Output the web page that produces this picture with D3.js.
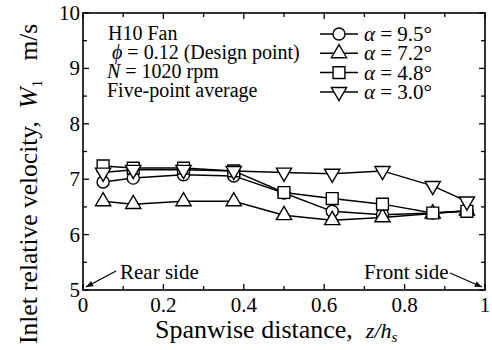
<!DOCTYPE html>
<html>
<head>
<meta charset="utf-8">
<script src="https://cdn.jsdelivr.net/npm/d3@7"></script>
<style>
  body { margin: 0; background: #fff; }
  text { font-family: "Liberation Serif", "Times New Roman", serif; fill: #000; }
</style>
</head>
<body>
<div id="chart"></div>
<script>
var spanX = [0.05, 0.125, 0.25, 0.375, 0.5, 0.62, 0.745, 0.87, 0.955];
var alpha95 = [6.95, 7.02, 7.08, 7.06, 6.75, 6.42, 6.36, 6.39, 6.43];
var alpha72 = [6.6, 6.55, 6.6, 6.6, 6.35, 6.26, 6.31, 6.38, 6.43];
var alpha48 = [7.24, 7.2, 7.2, 7.15, 6.76, 6.65, 6.55, 6.39, 6.42];
var alpha30 = [7.12, 7.17, 7.17, 7.15, 7.12, 7.1, 7.15, 6.88, 6.6];
var seriesNames = ["9.5", "7.2", "4.8", "3.0"];
var xTicks = [0, 0.2, 0.4, 0.6, 0.8, 1];
var yTicks = [5, 6, 7, 8, 9, 10];

var w = 492, h = 350;
var pLeft = 83, pRight = 485, pTop = 13, pBottom = 290;

var svg = d3.select("#chart").append("svg").attr("width", w).attr("height", h);

var x = d3.scaleLinear().domain([0, 1]).range([pLeft, pRight]);
var y = d3.scaleLinear().domain([5, 10]).range([pBottom, pTop]);

// frame
svg.append("rect")
  .attr("x", pLeft).attr("y", pTop)
  .attr("width", pRight - pLeft).attr("height", pBottom - pTop)
  .attr("fill", "none").attr("stroke", "#000").attr("stroke-width", 1.6);

// inward ticks on all four sides
var xMinor = d3.range(0, 1.001, 0.1);
var yMinor = d3.range(5, 10.001, 0.5);
var tk = svg.append("g").attr("stroke", "#000").attr("stroke-width", 1.3);
xMinor.forEach(function (v, i) {
  var len = i % 2 == 0 ? 6 : 4;
  tk.append("line").attr("x1", x(v)).attr("x2", x(v)).attr("y1", pBottom).attr("y2", pBottom - len);
  tk.append("line").attr("x1", x(v)).attr("x2", x(v)).attr("y1", pTop).attr("y2", pTop + len);
});
yMinor.forEach(function (v, i) {
  var len = i % 2 == 0 ? 6 : 4;
  tk.append("line").attr("y1", y(v)).attr("y2", y(v)).attr("x1", pLeft).attr("x2", pLeft + len);
  tk.append("line").attr("y1", y(v)).attr("y2", y(v)).attr("x1", pRight).attr("x2", pRight - len);
});

// tick labels
svg.append("g").selectAll("text").data(xTicks).enter().append("text")
  .attr("x", function (d) { return x(d); })
  .attr("y", pBottom + 22)
  .attr("text-anchor", "middle")
  .style("font-size", "21px")
  .text(function (d) { return d; });
svg.append("g").selectAll("text").data(yTicks).enter().append("text")
  .attr("x", pLeft - 3)
  .attr("y", function (d) { return y(d) + 7; })
  .attr("text-anchor", "end")
  .style("font-size", "21px")
  .text(function (d) { return d; });

// axis titles
var xt = svg.append("text").attr("x", 155).attr("y", 338).style("font-size", "26px");
xt.append("tspan").text("Spanwise distance,\u00a0\u00a0");
xt.append("tspan").style("font-style", "italic").style("font-size", "22px").text("z");
xt.append("tspan").style("font-style", "italic").style("font-size", "22px").text("/");
xt.append("tspan").style("font-style", "italic").style("font-size", "22px").text("h");
xt.append("tspan").style("font-style", "italic").style("font-size", "15px").attr("dy", 4).text("s");

var yt = svg.append("text")
  .attr("transform", "translate(37,344) rotate(-90)")
  .style("font-size", "25.5px");
yt.append("tspan").text("Inlet relative velocity,\u00a0\u00a0");
yt.append("tspan").style("font-style", "italic").text("W");
yt.append("tspan").style("font-size", "15px").attr("dy", 5).text("1");
yt.append("tspan").attr("dy", -5).text("\u00a0\u00a0\u00a0m/s");

// condition text
var info = svg.append("g").style("font-size", "20px");
info.append("text").attr("x", 108).attr("y", 40).text("H10 Fan");
var phi = info.append("text").attr("x", 112).attr("y", 59);
phi.append("tspan").style("font-style", "italic").text("\u03d5");
phi.append("tspan").text(" = 0.12 (Design point)");
var nrow = info.append("text").attr("x", 107).attr("y", 78);
nrow.append("tspan").style("font-style", "italic").text("N");
nrow.append("tspan").text(" = 1020 rpm");
info.append("text").attr("x", 107).attr("y", 97).text("Five-point average");

// markers
var shapes = [d3.symbolCircle, d3.symbolTriangle, d3.symbolSquare, d3.symbolTriangle];
var sizes = [115, 100, 140, 100];
var rot = [0, 0, 0, 180];
var allSeries = [alpha95, alpha72, alpha48, alpha30];

var line = d3.line()
  .x(function (d) { return x(d[0]); })
  .y(function (d) { return y(d[1]); });

allSeries.forEach(function (vals, s) {
  var pts = spanX.map(function (xv, i) { return [xv, vals[i]]; });
  svg.append("path").datum(pts)
    .attr("d", line)
    .attr("fill", "none").attr("stroke", "#000").attr("stroke-width", 1.5);
});
allSeries.forEach(function (vals, s) {
  var pts = spanX.map(function (xv, i) { return [xv, vals[i]]; });
  svg.append("g").selectAll("path").data(pts).enter().append("path")
    .attr("d", d3.symbol().type(shapes[s]).size(sizes[s]))
    .attr("transform", function (d) {
      return "translate(" + x(d[0]) + "," + y(d[1]) + ") rotate(" + rot[s] + ")";
    })
    .attr("fill", "#fff").attr("stroke", "#000").attr("stroke-width", 1.4);
});

// legend
var lg = svg.append("g");
seriesNames.forEach(function (name, s) {
  var ly = 34 + s * 19.3;
  lg.append("line").attr("x1", 320).attr("x2", 358).attr("y1", ly).attr("y2", ly)
    .attr("stroke", "#000").attr("stroke-width", 1.5);
  lg.append("path")
    .attr("d", d3.symbol().type(shapes[s]).size(sizes[s]))
    .attr("transform", "translate(339," + ly + ") rotate(" + rot[s] + ")")
    .attr("fill", "#fff").attr("stroke", "#000").attr("stroke-width", 1.4);
  var t = lg.append("text").attr("x", 364).attr("y", ly + 7).style("font-size", "21px");
  t.append("tspan").style("font-style", "italic").text("\u03b1");
  t.append("tspan").text(" = " + name + "\u00b0");
});

// side annotations
svg.append("defs").append("marker")
  .attr("id", "arrow").attr("viewBox", "0 0 10 10")
  .attr("refX", 10).attr("refY", 5)
  .attr("markerWidth", 9).attr("markerHeight", 6)
  .attr("orient", "auto")
  .append("path").attr("d", "M0,1 L10,5 L0,9 Z").attr("fill", "#000");

svg.append("text").attr("x", 120).attr("y", 279).style("font-size", "21px").text("Rear side");
svg.append("line").attr("x1", 116).attr("y1", 271).attr("x2", 86).attr("y2", 287)
  .attr("stroke", "#000").attr("stroke-width", 1.2).attr("marker-end", "url(#arrow)");
svg.append("text").attr("x", 364).attr("y", 279).style("font-size", "21px").text("Front side");
svg.append("line").attr("x1", 450).attr("y1", 273).attr("x2", 482).attr("y2", 287)
  .attr("stroke", "#000").attr("stroke-width", 1.2).attr("marker-end", "url(#arrow)");
</script>
</body>
</html>
